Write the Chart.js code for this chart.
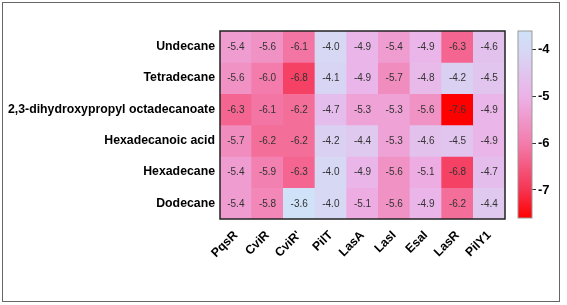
<!DOCTYPE html>
<html>
<head>
<meta charset="utf-8">
<script src="https://cdn.jsdelivr.net/npm/chart.js@4.4.1/dist/chart.umd.min.js"></script>
<style>
  html, body { margin: 0; padding: 0; background: #fff; width: 567px; height: 305px; overflow: hidden; }
  #frame { position: absolute; left: 2px; top: 2px; width: 558px; height: 300px; box-sizing: border-box; border: 1.5px solid #666; }
  canvas { position: absolute; left: 0; top: 0; }
</style>
</head>
<body>
<div id="frame"></div>
<canvas id="main" width="567" height="305"></canvas>
<canvas id="cbar" width="567" height="305"></canvas>
<script>
// ---- data ----
const rows = ["Undecane", "Tetradecane", "2,3-dihydroxypropyl octadecanoate", "Hexadecanoic acid", "Hexadecane", "Dodecane"];
const cols = ["PqsR", "CviR", "CviR'", "PilT", "LasA", "LasI", "EsaI", "LasR", "PilY1"];
const undecane      = [-5.4, -5.6, -6.1, -4.0, -4.9, -5.4, -4.9, -6.3, -4.6];
const tetradecane   = [-5.6, -6.0, -6.8, -4.1, -4.9, -5.7, -4.8, -4.2, -4.5];
const dihydroxy     = [-6.3, -6.1, -6.2, -4.7, -5.3, -5.3, -5.6, -7.6, -4.9];
const hexadecanoic  = [-5.7, -6.2, -6.2, -4.2, -4.4, -5.3, -4.6, -4.5, -4.9];
const hexadecane    = [-5.4, -5.9, -6.3, -4.0, -4.9, -5.6, -5.1, -6.8, -4.7];
const dodecane      = [-5.4, -5.8, -3.6, -4.0, -5.1, -5.6, -4.9, -6.2, -4.4];
const values = [undecane, tetradecane, dihydroxy, hexadecanoic, hexadecane, dodecane];
const scaleMin = -7.6, scaleMax = -3.6;
const colorTicks = [-7, -6, -5, -4];

// ---- colour map ----
const stops = [
  [-7.6, [255, 0, 0]],
  [-7.0, [246, 52, 82]],
  [-6.0, [243, 124, 172]],
  [-5.0, [236, 178, 232]],
  [-4.0, [214, 216, 244]],
  [-3.6, [207, 226, 248]]
];
function colorFor(v) {
  if (v <= stops[0][0]) return `rgb(${stops[0][1].join(',')})`;
  for (let i = 1; i < stops.length; i++) {
    if (v <= stops[i][0]) {
      const [a, ca] = stops[i - 1], [b, cb] = stops[i];
      const t = (v - a) / (b - a);
      const c = ca.map((x, k) => Math.round(x + (cb[k] - x) * t));
      return `rgb(${c.join(',')})`;
    }
  }
  return `rgb(${stops[stops.length - 1][1].join(',')})`;
}

const FONT = "'Liberation Sans', Arial, sans-serif";

const cellLabels = {
  id: 'cellLabels',
  afterDatasetsDraw(chart) {
    const ctx = chart.ctx;
    ctx.save();
    ctx.font = `10px ${FONT}`;
    ctx.fillStyle = '#333';
    ctx.textAlign = 'center';
    ctx.textBaseline = 'middle';
    chart.data.datasets.forEach((ds, r) => {
      const meta = chart.getDatasetMeta(r);
      meta.data.forEach((el, j) => {
        const y = (el.y + el.base) / 2;
        ctx.fillText(values[r][j].toFixed(1), el.x, y + 0.5);
      });
    });
    ctx.restore();
  }
};
const areaBorder = (color, w) => ({
  id: 'areaBorder',
  afterDraw(chart) {
    const a = chart.chartArea, ctx = chart.ctx;
    ctx.save();
    ctx.strokeStyle = color;
    ctx.lineWidth = w;
    ctx.strokeRect(a.left, a.top, a.right - a.left, a.bottom - a.top);
    ctx.restore();
  }
});

new Chart(document.getElementById('main'), {
  type: 'bar',
  data: {
    labels: cols,
    datasets: rows.map((name, r) => ({
      label: name,
      data: cols.map(() => [r, r + 1]),
      backgroundColor: values[r].map(colorFor),
      borderWidth: 0,
      grouped: false,
      barPercentage: 1,
      categoryPercentage: 1
    }))
  },
  options: {
    responsive: false,
    devicePixelRatio: 1,
    animation: false,
    layout: { padding: { left: 0, top: 31, right: 62, bottom: 0 } },
    plugins: { legend: { display: false }, tooltip: { enabled: false } },
    scales: {
      x: {
        type: 'category',
        grid: { display: false, drawTicks: false },
        border: { display: false },
        ticks: {
          color: '#000',
          font: { family: FONT, size: 12.3, weight: 'bold' },
          minRotation: 45, maxRotation: 45,
          padding: 9
        },
        afterFit(s) { s.height = 86; }
      },
      y: {
        type: 'linear',
        min: 0, max: 6,
        reverse: true,
        grid: { display: false, drawTicks: false },
        border: { display: false },
        afterBuildTicks(s) { s.ticks = rows.map((_, i) => ({ value: i + 0.5 })); },
        ticks: {
          color: '#000',
          font: { family: FONT, size: 12.3, weight: 'bold' },
          padding: 5,
          callback: (v, i) => rows[i]
        },
        afterFit(s) { s.width = 220; }
      }
    }
  },
  plugins: [cellLabels, areaBorder('#222', 1.5)]
});

new Chart(document.getElementById('cbar'), {
  type: 'bar',
  data: {
    labels: ['scale'],
    datasets: [{
      data: [[scaleMin, scaleMax]],
      borderWidth: 0,
      barPercentage: 1,
      categoryPercentage: 1,
      backgroundColor(c) {
        const ch = c.chart;
        if (!ch.chartArea) return '#ccc';
        const y = ch.scales.y;
        const g = ch.ctx.createLinearGradient(0, y.getPixelForValue(scaleMin), 0, y.getPixelForValue(scaleMax));
        stops.forEach(([v, col]) => g.addColorStop((v - scaleMin) / (scaleMax - scaleMin), `rgb(${col.join(',')})`));
        return g;
      }
    }]
  },
  options: {
    responsive: false,
    devicePixelRatio: 1,
    animation: false,
    layout: { padding: { left: 518, top: 31, right: 0, bottom: 87 } },
    plugins: { legend: { display: false }, tooltip: { enabled: false } },
    scales: {
      x: { display: false },
      y: {
        position: 'right',
        min: scaleMin, max: scaleMax,
        grid: { drawOnChartArea: false, drawTicks: true, tickLength: 4, color: '#333' },
        border: { display: false },
        afterBuildTicks(s) { s.ticks = colorTicks.map(v => ({ value: v })); },
        ticks: {
          color: '#000',
          font: { family: FONT, size: 13, weight: 'bold' },
          padding: 2,
          callback: (v) => String(v)
        },
        afterFit(s) { s.width = 35; }
      }
    }
  },
  plugins: [areaBorder('#999', 1)]
});
</script>
</body>
</html>
